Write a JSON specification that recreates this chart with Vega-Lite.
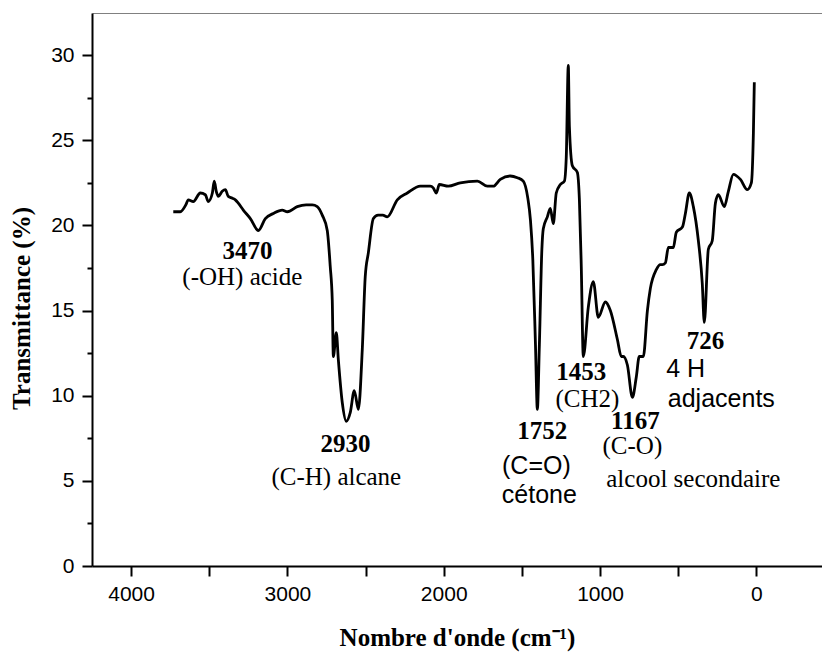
{
  "$schema": "https://vega.github.io/schema/vega-lite/v6.json",
  "autosize": "none",
  "width": 730,
  "height": 553,
  "padding": {"left": 92, "top": 13, "right": 0, "bottom": 87},
  "background": "white",
  "config": {"view": {"stroke": null}},
  "datasets": {
    "spectrum": [
      {"w": 3730, "t": 20.8}, {"w": 3685, "t": 20.8}, {"w": 3650, "t": 21.2}, {"w": 3634, "t": 21.5},
      {"w": 3602, "t": 21.4}, {"w": 3557, "t": 21.9}, {"w": 3525, "t": 21.8}, {"w": 3506, "t": 21.4},
      {"w": 3480, "t": 21.9}, {"w": 3468, "t": 22.6}, {"w": 3455, "t": 22.0}, {"w": 3442, "t": 21.7},
      {"w": 3417, "t": 22.0}, {"w": 3397, "t": 22.1}, {"w": 3378, "t": 21.7}, {"w": 3352, "t": 21.6},
      {"w": 3333, "t": 21.5}, {"w": 3314, "t": 21.3}, {"w": 3282, "t": 20.9}, {"w": 3237, "t": 20.4},
      {"w": 3186, "t": 19.7}, {"w": 3141, "t": 20.4}, {"w": 3090, "t": 20.7}, {"w": 3033, "t": 20.9},
      {"w": 3000, "t": 20.8}, {"w": 2937, "t": 21.1}, {"w": 2880, "t": 21.2}, {"w": 2841, "t": 21.2},
      {"w": 2809, "t": 21.1}, {"w": 2777, "t": 20.6}, {"w": 2745, "t": 19.7}, {"w": 2726, "t": 17.6},
      {"w": 2713, "t": 15.6}, {"w": 2706, "t": 12.3}, {"w": 2687, "t": 13.7}, {"w": 2674, "t": 12.1},
      {"w": 2649, "t": 9.6}, {"w": 2623, "t": 8.5}, {"w": 2598, "t": 9.0}, {"w": 2572, "t": 10.3},
      {"w": 2546, "t": 9.2}, {"w": 2521, "t": 12.7}, {"w": 2502, "t": 17.0}, {"w": 2482, "t": 18.4},
      {"w": 2450, "t": 20.4}, {"w": 2420, "t": 20.6}, {"w": 2390, "t": 20.6}, {"w": 2361, "t": 20.5},
      {"w": 2297, "t": 21.5}, {"w": 2233, "t": 21.9}, {"w": 2150, "t": 22.3}, {"w": 2086, "t": 22.3},
      {"w": 2067, "t": 22.2}, {"w": 2047, "t": 21.9}, {"w": 2028, "t": 22.4}, {"w": 1971, "t": 22.3},
      {"w": 1894, "t": 22.5}, {"w": 1785, "t": 22.6}, {"w": 1721, "t": 22.3}, {"w": 1683, "t": 22.3},
      {"w": 1638, "t": 22.7}, {"w": 1574, "t": 22.9}, {"w": 1529, "t": 22.8}, {"w": 1491, "t": 22.6},
      {"w": 1462, "t": 21.6}, {"w": 1445, "t": 20.3}, {"w": 1430, "t": 18.0}, {"w": 1413, "t": 13.0},
      {"w": 1401, "t": 9.2}, {"w": 1388, "t": 13.0}, {"w": 1372, "t": 18.6}, {"w": 1363, "t": 19.8},
      {"w": 1337, "t": 20.5}, {"w": 1318, "t": 21.0}, {"w": 1299, "t": 20.1}, {"w": 1280, "t": 21.9},
      {"w": 1254, "t": 22.4}, {"w": 1228, "t": 22.6}, {"w": 1216, "t": 24.0}, {"w": 1203, "t": 29.4},
      {"w": 1196, "t": 25.8}, {"w": 1177, "t": 23.5}, {"w": 1145, "t": 23.1}, {"w": 1132, "t": 21.5},
      {"w": 1120, "t": 17.6}, {"w": 1107, "t": 12.3}, {"w": 1075, "t": 15.2}, {"w": 1043, "t": 16.7},
      {"w": 1011, "t": 14.6}, {"w": 966, "t": 15.5}, {"w": 934, "t": 15.0}, {"w": 889, "t": 13.3},
      {"w": 864, "t": 12.3}, {"w": 851, "t": 12.3}, {"w": 825, "t": 11.8}, {"w": 793, "t": 9.9},
      {"w": 768, "t": 11.1}, {"w": 749, "t": 12.3}, {"w": 723, "t": 12.3}, {"w": 697, "t": 15.0},
      {"w": 678, "t": 16.3}, {"w": 640, "t": 17.4}, {"w": 614, "t": 17.7}, {"w": 601, "t": 17.7},
      {"w": 582, "t": 17.8}, {"w": 563, "t": 18.7}, {"w": 531, "t": 18.7}, {"w": 512, "t": 19.6},
      {"w": 473, "t": 19.9}, {"w": 454, "t": 20.7}, {"w": 429, "t": 21.9}, {"w": 403, "t": 21.1},
      {"w": 371, "t": 19.1}, {"w": 346, "t": 16.6}, {"w": 333, "t": 14.3}, {"w": 307, "t": 18.6},
      {"w": 282, "t": 19.1}, {"w": 262, "t": 21.3}, {"w": 243, "t": 21.8}, {"w": 205, "t": 21.1},
      {"w": 179, "t": 22.0}, {"w": 147, "t": 23.0}, {"w": 102, "t": 22.7}, {"w": 58, "t": 22.1},
      {"w": 32, "t": 22.5}, {"w": 19, "t": 25.4}, {"w": 13, "t": 28.4}
    ],
    "boldLabels": [
      {"w": 3256, "t": 18.05, "label": "3470"},
      {"w": 2629, "t": 6.72, "label": "2930"},
      {"w": 1369, "t": 7.48, "label": "1752"},
      {"w": 1120, "t": 10.94, "label": "1453"},
      {"w": 774, "t": 8.07, "label": "1167"},
      {"w": 326, "t": 12.72, "label": "726"}
    ],
    "serifLabels": [
      {"w": 3288, "t": 16.50, "label": "(-OH) acide"},
      {"w": 2687, "t": 4.76, "label": "(C-H) alcane"},
      {"w": 1081, "t": 9.34, "label": "(CH2)"},
      {"w": 793, "t": 6.58, "label": "(C-O)"},
      {"w": 403, "t": 4.64, "label": "alcool secondaire"}
    ],
    "sansLabels": [
      {"w": 1407, "t": 5.40, "label": "(C=O)"},
      {"w": 1388, "t": 3.70, "label": "cétone"},
      {"w": 452, "t": 11.10, "label": "4 H"},
      {"w": 224, "t": 9.34, "label": "adjacents"}
    ]
  },
  "resolve": {"axis": {"x": "independent"}},
  "layer": [
    {
      "data": {"name": "spectrum"},
      "mark": {"type": "line", "color": "black", "strokeWidth": 2.8, "interpolate": "monotone", "strokeJoin": "round"},
      "encoding": {
        "x": {
          "field": "w", "type": "quantitative",
          "scale": {"domain": [4250, -420], "nice": false, "zero": false},
          "axis": {
            "orient": "bottom",
            "values": [4000, 3500, 3000, 2500, 2000, 1500, 1000, 500, 0],
            "labelExpr": "datum.value % 1000 === 0 ? format(datum.value, 'd') : ''",
            "grid": false,
            "domainColor": "black", "domainWidth": 2,
            "tickColor": "black", "tickWidth": 2, "tickSize": 10,
            "labelFont": "Liberation Sans", "labelFontSize": 21, "labelColor": "black", "labelPadding": 7,
            "title": "Nombre d'onde (cm⁻¹)",
            "titleFont": "Liberation Serif", "titleFontSize": 25, "titleFontWeight": "bold", "titleColor": "black",
            "titleBaseline": "alphabetic", "titleY": 79
          }
        },
        "y": {
          "field": "t", "type": "quantitative",
          "scale": {"domain": [0, 32.47], "nice": false, "zero": false},
          "axis": {
            "values": [0, 2.5, 5, 7.5, 10, 12.5, 15, 17.5, 20, 22.5, 25, 27.5, 30],
            "labelExpr": "datum.value % 5 === 0 ? format(datum.value, 'd') : ''",
            "grid": false,
            "domainColor": "black", "domainWidth": 2,
            "tickColor": "black", "tickWidth": 2,
            "tickSize": {"condition": {"test": "datum.value % 5 === 0", "value": 10}, "value": 5},
            "labelFont": "Liberation Sans", "labelFontSize": 21, "labelColor": "black", "labelPadding": 8,
            "title": "Transmittance (%)",
            "titleFont": "Liberation Serif", "titleFontSize": 25, "titleFontWeight": "bold", "titleColor": "black",
            "titleBaseline": "alphabetic", "titleX": -63, "titleY": 295, "titleAngle": -90, "titleAlign": "center"
          }
        }
      }
    },
    {
      "data": {"name": "boldLabels"},
      "mark": {"type": "text", "font": "Liberation Serif", "fontWeight": "bold", "fontSize": 25, "color": "black", "align": "center", "baseline": "alphabetic"},
      "encoding": {
        "x": {"field": "w", "type": "quantitative", "axis": {"orient": "top", "title": null, "labels": false, "ticks": false, "grid": false, "domainColor": "#808080", "domainWidth": 1}},
        "y": {"field": "t", "type": "quantitative"},
        "text": {"field": "label"}
      }
    },
    {
      "data": {"name": "serifLabels"},
      "mark": {"type": "text", "font": "Liberation Serif", "fontSize": 25, "color": "black", "align": "center", "baseline": "alphabetic"},
      "encoding": {
        "x": {"field": "w", "type": "quantitative", "axis": null},
        "y": {"field": "t", "type": "quantitative"},
        "text": {"field": "label"}
      }
    },
    {
      "data": {"name": "sansLabels"},
      "mark": {"type": "text", "font": "Liberation Sans", "fontSize": 25, "color": "black", "align": "center", "baseline": "alphabetic"},
      "encoding": {
        "x": {"field": "w", "type": "quantitative", "axis": null},
        "y": {"field": "t", "type": "quantitative"},
        "text": {"field": "label"}
      }
    }
  ]
}
